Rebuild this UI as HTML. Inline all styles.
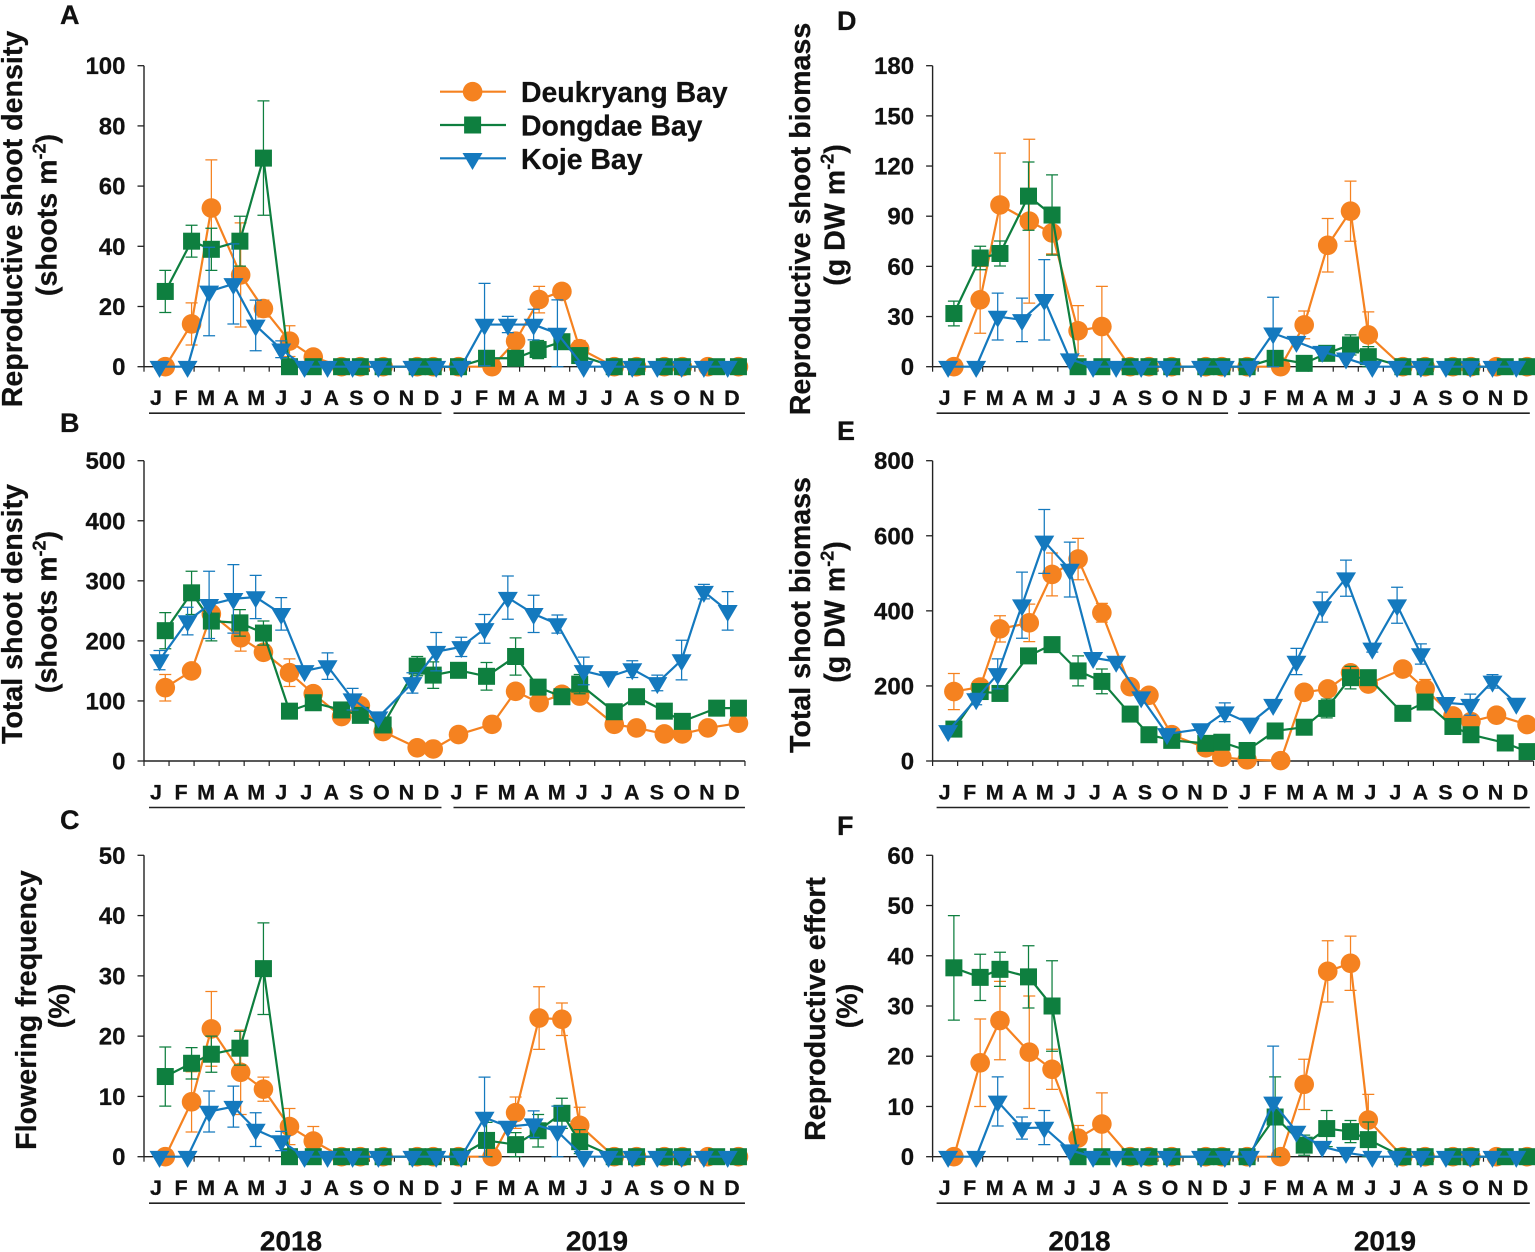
<!DOCTYPE html>
<html lang="en">
<head>
<meta charset="utf-8">
<title>Seagrass reproductive shoot charts</title>
<style>
html,body{margin:0;padding:0;background:#fff;}
svg{display:block;}
text{font-family:"Liberation Sans",Arial,sans-serif;font-weight:700;fill:#111;stroke:#111;stroke-width:0.25px;}
.letter{font-size:27px;}
.title{font-size:28.6px;text-anchor:middle;}
.legend{font-size:28.4px;}
.year{font-size:28px;text-anchor:middle;}
.sup{font-size:18px;}
</style>
</head>
<body>
<svg id="figure" width="1535" height="1252" viewBox="0 0 1535 1252" xmlns="http://www.w3.org/2000/svg">
  <rect width="1535" height="1252" fill="#fff"/>
  <g id="plots"></g>

  <text class="letter" x="60" y="24">A</text>
  <text class="letter" x="60" y="432">B</text>
  <text class="letter" x="60" y="829">C</text>
  <text class="letter" x="837" y="30">D</text>
  <text class="letter" x="837" y="440">E</text>
  <text class="letter" x="837" y="835">F</text>

  <text class="title" transform="translate(22 219) rotate(-90)">Reproductive shoot density</text>
  <text class="title" transform="translate(56.5 215) rotate(-90)">(shoots m<tspan class="sup" dy="-11">-2</tspan><tspan dy="11">)</tspan></text>
  <text class="title" transform="translate(22 614) rotate(-90)">Total shoot density</text>
  <text class="title" transform="translate(56.5 612) rotate(-90)">(shoots m<tspan class="sup" dy="-11">-2</tspan><tspan dy="11">)</tspan></text>
  <text class="title" transform="translate(36 1010) rotate(-90)">Flowering frequency</text>
  <text class="title" transform="translate(69 1006) rotate(-90)">(%)</text>
  <text class="title" transform="translate(810 219) rotate(-90)">Reproductive shoot biomass</text>
  <text class="title" transform="translate(844.5 215) rotate(-90)">(g DW m<tspan class="sup" dy="-11">-2</tspan><tspan dy="11">)</tspan></text>
  <text class="title" transform="translate(810 615) rotate(-90)">Total shoot biomass</text>
  <text class="title" transform="translate(844.5 612) rotate(-90)">(g DW m<tspan class="sup" dy="-11">-2</tspan><tspan dy="11">)</tspan></text>
  <text class="title" transform="translate(825 1009) rotate(-90)">Reproductive effort</text>
  <text class="title" transform="translate(857 1006) rotate(-90)">(%)</text>

  <text class="year" x="291" y="1250.5">2018</text>
  <text class="year" x="597" y="1250.5">2019</text>
  <text class="year" x="1079.5" y="1250.5">2018</text>
  <text class="year" x="1385" y="1250.5">2019</text>

  <g>
    <g>
      <line x1="440" x2="506" y1="91.7" y2="91.7" stroke="#F58220" stroke-width="2.2"/>
      <circle cx="472.6" cy="91.7" r="9.8" fill="#F58220"/>
      <text class="legend" x="521" y="102">Deukryang Bay</text>
    </g>
    <g>
      <line x1="440" x2="506" y1="125" y2="125" stroke="#0E7F3F" stroke-width="2.2"/>
      <rect x="464.1" y="116.5" width="17" height="17" fill="#0E7F3F"/>
      <text class="legend" x="521" y="135.5">Dongdae Bay</text>
    </g>
    <g>
      <line x1="440" x2="506" y1="158.3" y2="158.3" stroke="#1479BE" stroke-width="2.2"/>
      <polygon points="462.5,153 482.5,153 472.5,170" fill="#1479BE"/>
      <text class="legend" x="521" y="169">Koje Bay</text>
    </g>
  </g>
</svg>

<script>
// Sampling dates, expressed as months since January 2018, per bay
const monthsDeukryang = [0.85,1.9,2.69,3.86,4.77,5.81,6.76,7.89,8.64,9.55,10.91,11.55,12.56,13.9,14.84,15.78,16.69,17.4,18.78,19.67,20.78,21.5,22.52,23.74];
const monthsDongdae = [0.85,1.9,2.69,3.83,4.77,5.81,6.76,7.89,8.64,9.55,10.91,11.55,12.56,13.68,14.84,15.74,16.69,17.4,18.78,19.67,20.78,21.5,22.87,23.74];
const monthsKoje = [0.62,1.74,2.6,3.57,4.46,5.48,6.41,7.33,8.33,9.36,10.72,11.67,12.67,13.6,14.53,15.56,16.51,17.56,18.55,19.5,20.5,21.47,22.36,23.31];

const monthLabels = ["J","F","M","A","M","J","J","A","S","O","N","D","J","F","M","A","M","J","J","A","S","O","N","D"];

// Panel A: reproductive shoot density
const ticksA = [0,20,40,60,80,100];
const aDeukryang = [0,14.2,52.7,30.5,19.3,8.5,3.2,0,0,0,0,0,0,0,8.5,22.3,25,6,0,0,0,0,0,0];
const aDeukryangErr = [0,7,16,17.3,2.8,5.1,0,0,0,0,0,0,0,0,0,4.4,0,2.7,0,0,0,0,0,0];
const aDongdae = [25,41.7,39,41.7,69.3,0,0,0,0,0,0,0,0,2.8,2.8,5.7,8.3,3.7,0,0,0,0,0,0];
const aDongdaeErr = [7,5.3,7,8.3,19,0,0,0,0,0,0,0,0,0,0,3,0,0,0,0,0,0,0,0];
const aKoje = [0,0,25,27.5,13.7,5.8,0,0,0,0,0,0,0,14,14,14,11,0,0,0,0,0,0,0];
const aKojeErr = [0,0,14.7,13.3,8.4,2.8,0,0,0,0,0,0,0,13.7,2.7,5.1,11.2,0,0,0,0,0,0,0];

// Panel B: total shoot density
const ticksB = [0,100,200,300,400,500];
const bDeukryang = [122,150,245,205,181,147,112,74,92,49,22,20,44,61,116,97,111,108,61,55,45,45,55,63];
const bDeukryangErr = [22,0,0,22,0,23,0,0,0,0,0,0,0,0,0,0,0,0,0,0,0,0,0,0];
const bDongdae = [217,280,233,230,213,83,97,85,76,60,158,143,151,141,174,123,107,128,82,107,83,66,88,88];
const bDongdaeErr = [30,36,33,22,20,0,0,0,0,0,16,22,0,23,31,0,0,16,0,0,0,0,0,0];
const bKoje = [168,233,260,270,273,245,150,158,103,73,130,182,190,220,272,245,228,150,140,153,130,168,282,250];
const bKojeErr = [16,23,56,57,36,27,0,22,18,0,17,32,16,24,36,31,15,23,0,14,13,33,12,32];

// Panel C: flowering frequency
const ticksC = [0,10,20,30,40,50];
const cDeukryang = [0,9.1,21.2,14,11.2,5,2.6,0,0,0,0,0,0,0,7.3,23,22.8,5.2,0,0,0,0,0,0];
const cDeukryangErr = [0,5,6.2,7,2,3,2.4,0,0,0,0,0,0,0,2.6,5.2,2.7,3,0,0,0,0,0,0];
const cDongdae = [13.3,15.5,17,18,31.2,0,0,0,0,0,0,0,0,2.7,2,4.3,7.2,2.5,0,0,0,0,0,0];
const cDongdaeErr = [4.9,2.6,3,2.8,7.6,0,0,0,0,0,0,0,0,3,2,2.7,2.5,2,0,0,0,0,0,0];
const cKoje = [0,0,7.5,8.3,4.5,2.6,0,0,0,0,0,0,0,6.5,5,5.4,4.2,0,0,0,0,0,0,0];
const cKojeErr = [0,0,3.4,3.4,2.8,1.6,0,0,0,0,0,0,0,6.7,0,2.2,4.2,0,0,0,0,0,0,0];

// Panel D: reproductive shoot biomass
const ticksD = [0,30,60,90,120,150,180];
const dDeukryang = [0,40,96.7,87,80,21.5,24,0,0,0,0,0,0,0,25,72.6,93,19,0,0,0,0,0,0];
const dDeukryangErr = [0,20,31,49,12.5,15,24,0,0,0,0,0,0,0,8.3,16,18,13.8,0,0,0,0,0,0];
const dDongdae = [31.8,65,67.7,102,90.7,0,0,0,0,0,0,0,0,5,2,8,13,6,0,0,0,0,0,0];
const dDongdaeErr = [7.4,7,7.5,20.4,24,0,0,0,0,0,0,0,0,0,0,0,6,6,0,0,0,0,0,0];
const dKoje = [0,0,30,28,40,4.5,0,0,0,0,0,0,0,20,15,9,5,0,0,0,0,0,0,0];
const dKojeErr = [0,0,14,13,24,0,0,0,0,0,0,0,0,21.5,0,0,0,0,0,0,0,0,0,0];

// Panel E: total shoot biomass
const ticksE = [0,200,400,600,800];
const eDeukryang = [185,197,352,368,497,538,395,198,175,70,35,10,3,1,183,192,235,205,245,192,120,105,122,97];
const eDeukryangErr = [48,0,35,50,57,55,25,0,0,0,0,0,0,0,0,0,0,18,0,25,0,0,0,0];
const eDongdae = [85,185,180,280,310,240,212,125,70,55,47,50,28,80,90,140,222,222,127,157,92,70,48,25];
const eDongdaeErr = [0,0,0,0,0,40,33,0,0,0,0,0,0,0,0,25,30,0,0,0,0,0,0,0];
const eKoje = [80,165,232,415,585,510,275,265,170,72,85,130,100,150,265,410,487,300,415,285,155,150,212,153];
const eKojeErr = [0,15,40,88,85,73,0,0,0,0,0,25,0,0,35,40,48,10,48,27,0,28,18,0];

// Panel F: reproductive effort
const ticksF = [0,10,20,30,40,50,60];
const fDeukryang = [0,18.7,27.1,20.8,17.4,3.7,6.5,0,0,0,0,0,0,0,14.4,36.9,38.5,7.3,0,0,0,0,0,0];
const fDeukryangErr = [0,8.7,7.8,11.2,4,2.5,6.2,0,0,0,0,0,0,0,5,6.1,5.4,5.1,0,0,0,0,0,0];
const fDongdae = [37.6,35.7,37.3,35.8,30,0,0,0,0,0,0,0,0,7.9,2.3,5.6,5,3.4,0,0,0,0,0,0];
const fDongdaeErr = [10.4,4.6,3.4,6.2,9,0,0,0,0,0,0,0,0,8,2,3.6,2.2,3.5,0,0,0,0,0,0];
const fKoje = [0,0,11,5.7,5.8,1.3,0,0,0,0,0,0,0,10.8,5,2,0.8,0,0,0,0,0,0,0];
const fKojeErr = [0,0,4.9,2.2,3.4,0,0,0,0,0,0,0,0,11.2,0,0,0,0,0,0,0,0,0,0];

const NS = 'http://www.w3.org/2000/svg';
const ORANGE = '#F58220', GREEN = '#0E7F3F', BLUE = '#1479BE', AXIS = '#222';
const root = document.getElementById('plots');

function node(parent, tag, attrs) {
  const el = document.createElementNS(NS, tag);
  for (const k in attrs) el.setAttribute(k, attrs[k]);
  parent.appendChild(el);
  return el;
}

function drawPanel(p) {
  const xScale = m => p.x0 + m * 25.04;
  const yMax = p.ticks[p.ticks.length - 1];
  const yScale = v => p.yZero - (v / yMax) * (p.yZero - p.yTop);

  const g = node(root, 'g', {});
  
  

  // axes
  const yAxis = node(g, 'line', {x1: p.x0, x2: p.x0, y1: p.yTop, y2: p.yZero, stroke: AXIS, 'stroke-width': 1.4});
  
  
  const xAxis = node(g, 'line', {x1: p.x0, x2: xScale(24), y1: p.yZero, y2: p.yZero, stroke: AXIS, 'stroke-width': 1.4});
  
  

  p.ticks.forEach(t => {
    const y = yScale(t);
    const tick = node(g, 'line', {x1: p.x0 - 6.5, x2: p.x0, y1: y, y2: y, stroke: AXIS, 'stroke-width': 1.3});
    
    
    const lab = node(g, 'text', {x: p.x0 - 18.5, y: y + 8.5, 'text-anchor': 'end', 'font-size': 24});
    
    
    lab.textContent = t;
  });

  for (let i = 0; i <= 24; i++) {
    const x = xScale(i);
    const tick = node(g, 'line', {x1: x, x2: x, y1: p.yZero, y2: p.yZero + 5, stroke: AXIS, 'stroke-width': 1.2});
    
    
  }

  monthLabels.forEach((m, i) => {
    const lab = node(g, 'text', {x: xScale(i + 0.48), y: p.yZero + 38.5, 'text-anchor': 'middle', 'font-size': 21.5});
    
    
    lab.textContent = m;
  });

  p.spans.forEach(r => {
    const u = node(g, 'line', {x1: xScale(r[0]), x2: xScale(r[1]), y1: p.yZero + 46.5, y2: p.yZero + 46.5, stroke: AXIS, 'stroke-width': 1.6});
    
    
  });

  // series, back to front
  p.series.forEach(s => {
    const sg = node(g, 'g', {});
    
    

    s.err.forEach((e, i) => {
      if (!e) return;
      const x = xScale(s.months[i]);
      const top = yScale(s.values[i] + e);
      const bot = yScale(Math.max(0, s.values[i] - e));
      const eb = node(sg, 'path', {
        d: 'M' + x + ' ' + top + 'V' + bot + 'M' + (x - 6) + ' ' + top + 'H' + (x + 6) + 'M' + (x - 6) + ' ' + bot + 'H' + (x + 6),
        stroke: s.color, 'stroke-width': 1.25, fill: 'none'
      });
      
      
    });

    const pts = s.values.map((v, i) => xScale(s.months[i]) + ',' + yScale(v)).join(' ');
    const line = node(sg, 'polyline', {points: pts, fill: 'none', stroke: s.color, 'stroke-width': 2.2, 'stroke-linejoin': 'round'});
    
    

    s.values.forEach((v, i) => {
      const x = xScale(s.months[i]);
      const y = yScale(v);
      let mk;
      if (s.shape === 'circle') {
        mk = node(sg, 'circle', {cx: x, cy: y, r: 9.8, fill: s.color});
      } else if (s.shape === 'square') {
        mk = node(sg, 'rect', {x: x - 8.5, y: y - 8.5, width: 17, height: 17, fill: s.color});
      } else {
        mk = node(sg, 'polygon', {points: (x - 10) + ',' + (y - 5.8) + ' ' + (x + 10) + ',' + (y - 5.8) + ' ' + x + ',' + (y + 11.2), fill: s.color});
      }
      
      
    });
  });
}

function trio(v1, e1, v2, e2, v3, e3) {
  return [
    {name: 'deukryang', months: monthsDeukryang, values: v1, err: e1, color: ORANGE, shape: 'circle'},
    {name: 'dongdae', months: monthsDongdae, values: v2, err: e2, color: GREEN, shape: 'square'},
    {name: 'koje', months: monthsKoje, values: v3, err: e3, color: BLUE, shape: 'triangle'}
  ];
}

const LEFT_X = 144, RIGHT_X = 932.6;
const LEFT_SPANS = [[0.2, 11.88], [12.36, 24]];
const RIGHT_SPANS = [[0.16, 11.8], [12.2, 23.85]];
drawPanel({id: 'a', x0: LEFT_X, yTop: 65.7, yZero: 366.7, spans: LEFT_SPANS, ticks: ticksA, series: trio(aDeukryang, aDeukryangErr, aDongdae, aDongdaeErr, aKoje, aKojeErr)});
drawPanel({id: 'b', x0: LEFT_X, yTop: 460.7, yZero: 761, spans: LEFT_SPANS, ticks: ticksB, series: trio(bDeukryang, bDeukryangErr, bDongdae, bDongdaeErr, bKoje, bKojeErr)});
drawPanel({id: 'c', x0: LEFT_X, yTop: 855.3, yZero: 1156.7, spans: LEFT_SPANS, ticks: ticksC, series: trio(cDeukryang, cDeukryangErr, cDongdae, cDongdaeErr, cKoje, cKojeErr)});
drawPanel({id: 'd', x0: RIGHT_X, yTop: 65.7, yZero: 366.7, spans: RIGHT_SPANS, ticks: ticksD, series: trio(dDeukryang, dDeukryangErr, dDongdae, dDongdaeErr, dKoje, dKojeErr)});
drawPanel({id: 'e', x0: RIGHT_X, yTop: 460.7, yZero: 761, spans: RIGHT_SPANS, ticks: ticksE, series: trio(eDeukryang, eDeukryangErr, eDongdae, eDongdaeErr, eKoje, eKojeErr)});
drawPanel({id: 'f', x0: RIGHT_X, yTop: 855.3, yZero: 1156.7, spans: RIGHT_SPANS, ticks: ticksF, series: trio(fDeukryang, fDeukryangErr, fDongdae, fDongdaeErr, fKoje, fKojeErr)});
</script>
</body>
</html>
